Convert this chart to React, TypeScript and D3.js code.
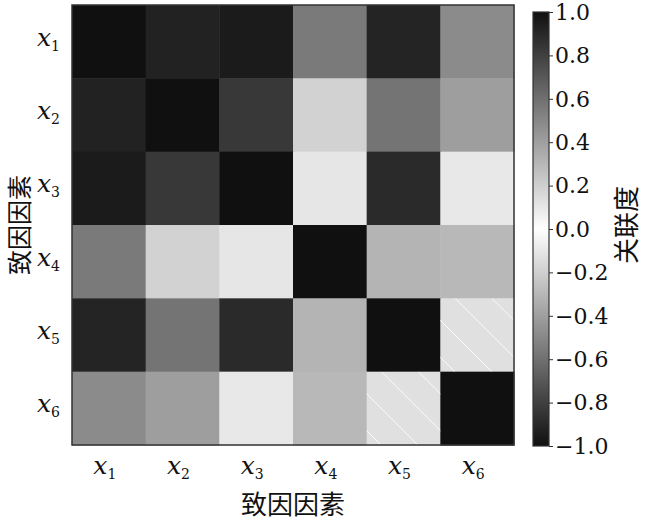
import * as d3 from "d3";
import { useEffect, useRef } from "react";

// factor labels (rows and columns)
const factors = ["1", "2", "3", "4", "5", "6"];

// correlation degree, one row per factor
const row1 = [1.0, 0.925, 0.954, 0.556, 0.916, 0.485];
const row2 = [0.925, 1.0, 0.833, 0.188, 0.582, 0.406];
const row3 = [0.954, 0.833, 1.0, 0.105, 0.891, 0.096];
const row4 = [0.556, 0.188, 0.105, 1.0, 0.314, 0.297];
const row5 = [0.916, 0.582, 0.891, 0.314, 1.0, 0.13];
const row6 = [0.485, 0.406, 0.096, 0.297, 0.13, 1.0];
const rows = [row1, row2, row3, row4, row5, row6];

// cells drawn with white hatching
const hatched = [
  [4, 5],
  [5, 4],
];

const cbTicks = [1.0, 0.8, 0.6, 0.4, 0.2, 0.0, -0.2, -0.4, -0.6, -0.8, -1.0];

export default function App() {
  const ref = useRef<SVGSVGElement>(null);

  useEffect(() => {
    if (!ref.current) return;
    const svg = d3.select(ref.current);
    svg.selectAll("*").remove();

    const width = 650;
    const height = 521;
    const left = 72;
    const top = 5;
    const right = 514;
    const bottom = 445;

    const serif = '"DejaVu Serif", serif';
    const cjk = '"Noto Sans CJK SC"';

    svg.attr("width", width).attr("height", height);

    // black -> white -> black
    const grey = d3.interpolateRgb("#101010", "#ffffff");
    const color = (v: number) => grey(1 - Math.abs(v));

    const x = d3.scaleBand().domain(factors).range([left, right]);
    const y = d3.scaleBand().domain(factors).range([top, bottom]);

    const cells = rows.flatMap((r, i) =>
      r.map((v, j) => ({ row: factors[i], col: factors[j], v, i, j }))
    );

    const g = svg.append("g");
    g.selectAll("rect.cell")
      .data(cells)
      .join("rect")
      .attr("class", "cell")
      .attr("x", (d) => x(d.col)!)
      .attr("y", (d) => y(d.row)!)
      .attr("width", x.bandwidth() + 0.5)
      .attr("height", y.bandwidth() + 0.5)
      .attr("fill", (d) => color(d.v));

    // hatching
    const defs = svg.append("defs");
    hatched.forEach(([i, j], k) => {
      const cx = x(factors[j])!;
      const cy = y(factors[i])!;
      const bw = x.bandwidth();
      const bh = y.bandwidth();
      defs
        .append("clipPath")
        .attr("id", "hclip" + k)
        .append("rect")
        .attr("x", cx)
        .attr("y", cy)
        .attr("width", bw)
        .attr("height", bh);
      const hg = g.append("g").attr("clip-path", `url(#hclip${k})`);
      const step = bw / 2;
      for (let s = -bw; s <= bw; s += step) {
        hg.append("line")
          .attr("x1", cx + s + bw * 0.2)
          .attr("y1", cy)
          .attr("x2", cx + s + bw * 0.2 + bh)
          .attr("y2", cy + bh)
          .attr("stroke", "#ffffff")
          .attr("stroke-width", 1)
          .attr("opacity", 0.9);
      }
    });

    // frame
    svg
      .append("rect")
      .attr("x", left)
      .attr("y", top)
      .attr("width", right - left)
      .attr("height", bottom - top)
      .attr("fill", "none")
      .attr("stroke", "#333")
      .attr("stroke-width", 1.5);

    // x labels
    const xl = svg
      .append("g")
      .selectAll("text")
      .data(factors)
      .join("text")
      .attr("x", (d) => x(d)! + x.bandwidth() / 2 - 4)
      .attr("y", 474)
      .attr("text-anchor", "middle")
      .style("font-family", serif)
      .style("font-size", "25px")
      .style("fill", "#111");
    xl.append("tspan").style("font-style", "italic").text("x");
    xl.append("tspan")
      .attr("dy", 5)
      .style("font-size", "14px")
      .text((d) => d);

    // y labels
    const yl = svg
      .append("g")
      .selectAll("text")
      .data(factors)
      .join("text")
      .attr("x", 37)
      .attr("y", (d) => y(d)! + y.bandwidth() / 2 + 4)
      .style("font-family", serif)
      .style("font-size", "25px")
      .style("fill", "#111");
    yl.append("tspan").style("font-style", "italic").text("x");
    yl.append("tspan")
      .attr("dy", 5)
      .style("font-size", "14px")
      .text((d) => d);

    // axis titles
    svg
      .append("text")
      .attr("x", (left + right) / 2)
      .attr("y", 514)
      .attr("text-anchor", "middle")
      .style("font-family", cjk)
      .style("font-size", "26px")
      .style("fill", "#111")
      .text("致因因素");

    svg
      .append("text")
      .attr("transform", `translate(29,${(top + bottom) / 2}) rotate(-90)`)
      .attr("text-anchor", "middle")
      .style("font-family", cjk)
      .style("font-size", "25px")
      .style("fill", "#111")
      .text("致因因素");

    // colorbar
    const cbX = 533;
    const cbW = 16;
    const cbTop = 12;
    const cbBottom = 446;
    const cbScale = d3.scaleLinear().domain([-1, 1]).range([cbBottom, cbTop]);
    const grad = defs
      .append("linearGradient")
      .attr("id", "cbgrad")
      .attr("x1", 0)
      .attr("y1", 1)
      .attr("x2", 0)
      .attr("y2", 0);
    d3.range(-1, 1.0001, 0.05).forEach((v) => {
      grad
        .append("stop")
        .attr("offset", (v + 1) / 2)
        .attr("stop-color", color(v));
    });
    svg
      .append("rect")
      .attr("x", cbX)
      .attr("y", cbTop)
      .attr("width", cbW)
      .attr("height", cbBottom - cbTop)
      .attr("fill", "url(#cbgrad)")
      .attr("stroke", "#333")
      .attr("stroke-width", 1.2);

    const cbAxis = d3
      .axisRight(cbScale)
      .tickValues(cbTicks)
      .tickSize(4)
      .tickFormat((d) => d3.format(".1f")(d as number).replace("-", "−"));
    const ag = svg
      .append("g")
      .attr("transform", `translate(${cbX + cbW},0)`)
      .call(cbAxis);
    ag.attr("font-family", null).attr("font-size", null);
    ag.select(".domain").remove();
    ag.selectAll("line").attr("stroke", "#333");
    ag.selectAll("text")
      .attr("x", 6)
      .attr("dy", "0.33em")
      .style("font-family", serif)
      .style("font-size", "22px")
      .style("fill", "#111");

    svg
      .append("text")
      .attr("transform", `translate(636,${(top + bottom) / 2}) rotate(-90)`)
      .attr("text-anchor", "middle")
      .style("font-family", cjk)
      .style("font-size", "26px")
      .style("fill", "#111")
      .text("关联度");
  }, []);

  return (
    <svg
      ref={ref}
      style={{ position: "absolute", left: 0, top: 0, background: "#fff" }}
    />
  );
}
